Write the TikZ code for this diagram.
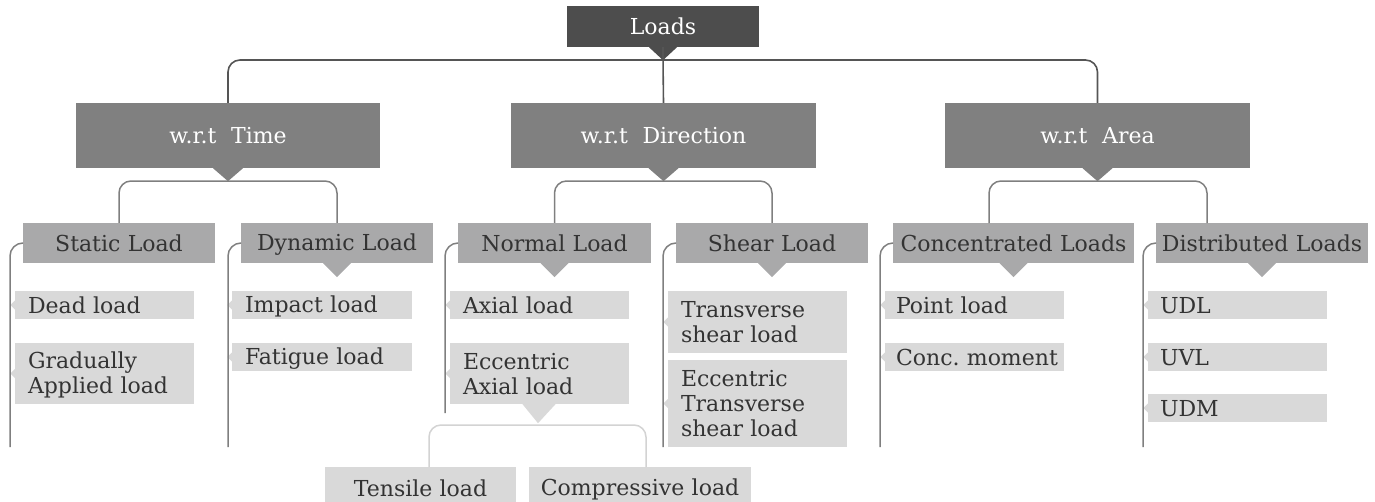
\documentclass[tikz,border=0pt]{standalone}
\usepackage{fontspec}
\setmainfont{DejaVu Serif}
\usetikzlibrary{calc}
\definecolor{cTop}{HTML}{4D4D4D}
\definecolor{cWrt}{HTML}{808080}
\definecolor{cLtwo}{HTML}{A9A9AA}
\definecolor{cLeaf}{HTML}{D9D9D9}
\definecolor{cTxt}{HTML}{333333}
\definecolor{cLineA}{HTML}{555555}
\definecolor{cLineB}{HTML}{7F7F7F}
\definecolor{cLineC}{HTML}{D3D3D3}
\newcommand\Mstrut{\rule[-4pt]{0pt}{24pt}}
\newcommand\LBox[8]{%
  \pgfmathsetmacro\bw{#6-#4}\pgfmathsetmacro\bh{#7-#5}%
  \pgfmathsetmacro\bcx{(#4+#6)/2}\pgfmathsetmacro\bcy{(#5+#7)/2}%
  \pgfmathsetmacro\btw{#6-#4-2*#3}%
  \node[#2, minimum width=\bw pt, minimum height=\bh pt, inner xsep=#3pt, text width=\btw pt] (#1) at (\bcx,\bcy) {\Mstrut#8\Mstrut};}
\begin{document}
\begin{tikzpicture}[x=1pt,y=-1pt,
  every node/.style={inner ysep=0pt, font=\fontsize{22}{25}\selectfont},
  topbox/.style={fill=cTop, text=white, align=center},
  wrtbox/.style={fill=cWrt, text=white, align=center},
  ltwo/.style={fill=cLtwo, text=cTxt, align=center},
  leaf/.style={fill=cLeaf, text=cTxt, align=left},
  leafc/.style={fill=cLeaf, text=cTxt, align=center},
  lineA/.style={draw=cLineA, line width=1.6pt, rounded corners=12pt},
  lineB/.style={draw=cLineB, line width=1.5pt, rounded corners=12pt},
  lineC/.style={draw=cLineC, line width=1.5pt, rounded corners=12pt}
]
\useasboundingbox (0,0) rectangle (1375,501);

% ---- boxes ----
\LBox{loads}{topbox}{2}{567}{6}{759}{47}{Loads}
\LBox{wT}{wrtbox}{2}{76}{103}{380}{168}{w.r.t\ \ Time}
\LBox{wD}{wrtbox}{2}{511}{103}{816}{168}{w.r.t\ \ Direction}
\LBox{wA}{wrtbox}{2}{945}{103}{1250}{168}{w.r.t\ \ Area}

\LBox{stat}{ltwo}{1}{23}{223}{215}{263}{Static Load}
\LBox{dyn}{ltwo}{1}{241}{223}{433}{263}{Dynamic Load}
\LBox{norm}{ltwo}{1}{458}{223}{651}{263}{Normal Load}
\LBox{shear}{ltwo}{1}{676}{223}{868}{263}{Shear Load}
\LBox{conc}{ltwo}{0}{893}{223}{1134}{263}{Concentrated Loads}
\LBox{dist}{ltwo}{0}{1156}{223}{1368}{263}{Distributed Loads}

\LBox{dead}{leaf}{13}{15}{291}{194}{319}{Dead load}
\LBox{grad}{leaf}{13}{15}{343}{194}{404}{Gradually\\Applied load}
\LBox{imp}{leaf}{13}{232}{291}{412}{319}{Impact load}
\LBox{fat}{leaf}{13}{232}{343}{412}{371}{Fatigue load}
\LBox{axial}{leaf}{13}{450}{291}{629}{319}{Axial load}
\LBox{ecc}{leaf}{13}{450}{343}{629}{404}{Eccentric\\Axial load}
\LBox{trans}{leaf}{13}{668}{291}{847}{353}{Transverse\\shear load}
\LBox{etrans}{leaf}{13}{668}{360}{847}{447}{Eccentric\\Transverse\\shear load}
\LBox{point}{leaf}{11}{885}{291}{1064}{319}{Point load}
\LBox{cmom}{leaf}{11}{885}{343}{1064}{371}{Conc.~moment}
\LBox{udl}{leaf}{12}{1148}{291}{1327}{319}{UDL}
\LBox{uvl}{leaf}{12}{1148}{343}{1327}{371}{UVL}
\LBox{udm}{leaf}{12}{1148}{394}{1327}{422}{UDM}
\LBox{tens}{leafc}{2}{325}{467}{516}{509}{Tensile load}
\LBox{comp}{leafc}{2}{529}{467}{751}{509}{Compressive load}

% ---- pointers below boxes ----
\fill[cTop] ($(loads.south)+(-14,0)$) -- ++(28,0) -- ($(loads.south)+(0,13)$) -- cycle;
\foreach \n in {wT,wD,wA}{
  \fill[cWrt] ($(\n.south)+(-15,0)$) -- ++(30,0) -- ($(\n.south)+(0,13)$) -- cycle;}
\foreach \n in {dyn,norm,shear,conc,dist}{
  \fill[cLtwo] ($(\n.south)+(-14,0)$) -- ++(28,0) -- ($(\n.south)+(0,14)$) -- cycle;}
\fill[cLeaf] ($(ecc.south)+(-17,0)$) -- ++(33,0) -- ($(ecc.south)+(-1.5,19)$) -- cycle;
% small pointers on the left of leaves
\foreach \n in {dead,grad,imp,fat,axial,ecc,trans,etrans,point,cmom,udl,uvl,udm}{
  \fill[cLeaf] ($(\n.west)+(0,-4.5)$) -- ($(\n.west)+(-4.5,0)$) -- ($(\n.west)+(0,4.5)$) -- cycle;}

% ---- coordinates ----
\coordinate (hub) at (663,60);
\coordinate (tHub) at (228,181);
\coordinate (dHub) at (663,181);
\coordinate (aHub) at (1098,181);
\coordinate (concIn) at (989,223);
\coordinate (distIn) at (1207,223);
\coordinate (eHub) at (538,425);
\coordinate (tensIn) at (429,467);
\coordinate (compIn) at (646,467);
\coordinate (statEnd) at (10,447);
\coordinate (dynEnd) at (228,447);
\coordinate (normEnd) at (445,413);
\coordinate (shearEnd) at (663,447);
\coordinate (concEnd) at (880,447);
\coordinate (distEnd) at (1143,447);

% ---- connectors ----
\draw[lineA] (wT.north) |- (hub) -| (wA.north);
\draw[lineA] (loads.south) -- (hub) -- (wD.north);
\draw[lineB] (stat.north) |- (tHub) -| (dyn.north);
\draw[lineB] (norm.north) |- (dHub) -| (shear.north);
\draw[lineB] (concIn) |- (aHub) -| (distIn);
\draw[lineC] (tensIn) |- (eHub) -| (compIn);

\draw[lineB, rounded corners=13pt] (stat.west) -| (statEnd);
\draw[lineB, rounded corners=13pt] (dyn.west) -| (dynEnd);
\draw[lineB, rounded corners=13pt] (norm.west) -| (normEnd);
\draw[lineB, rounded corners=13pt] (shear.west) -| (shearEnd);
\draw[lineB, rounded corners=13pt] (conc.west) -| (concEnd);
\draw[lineB, rounded corners=13pt] (dist.west) -| (distEnd);
\end{tikzpicture}
\end{document}
